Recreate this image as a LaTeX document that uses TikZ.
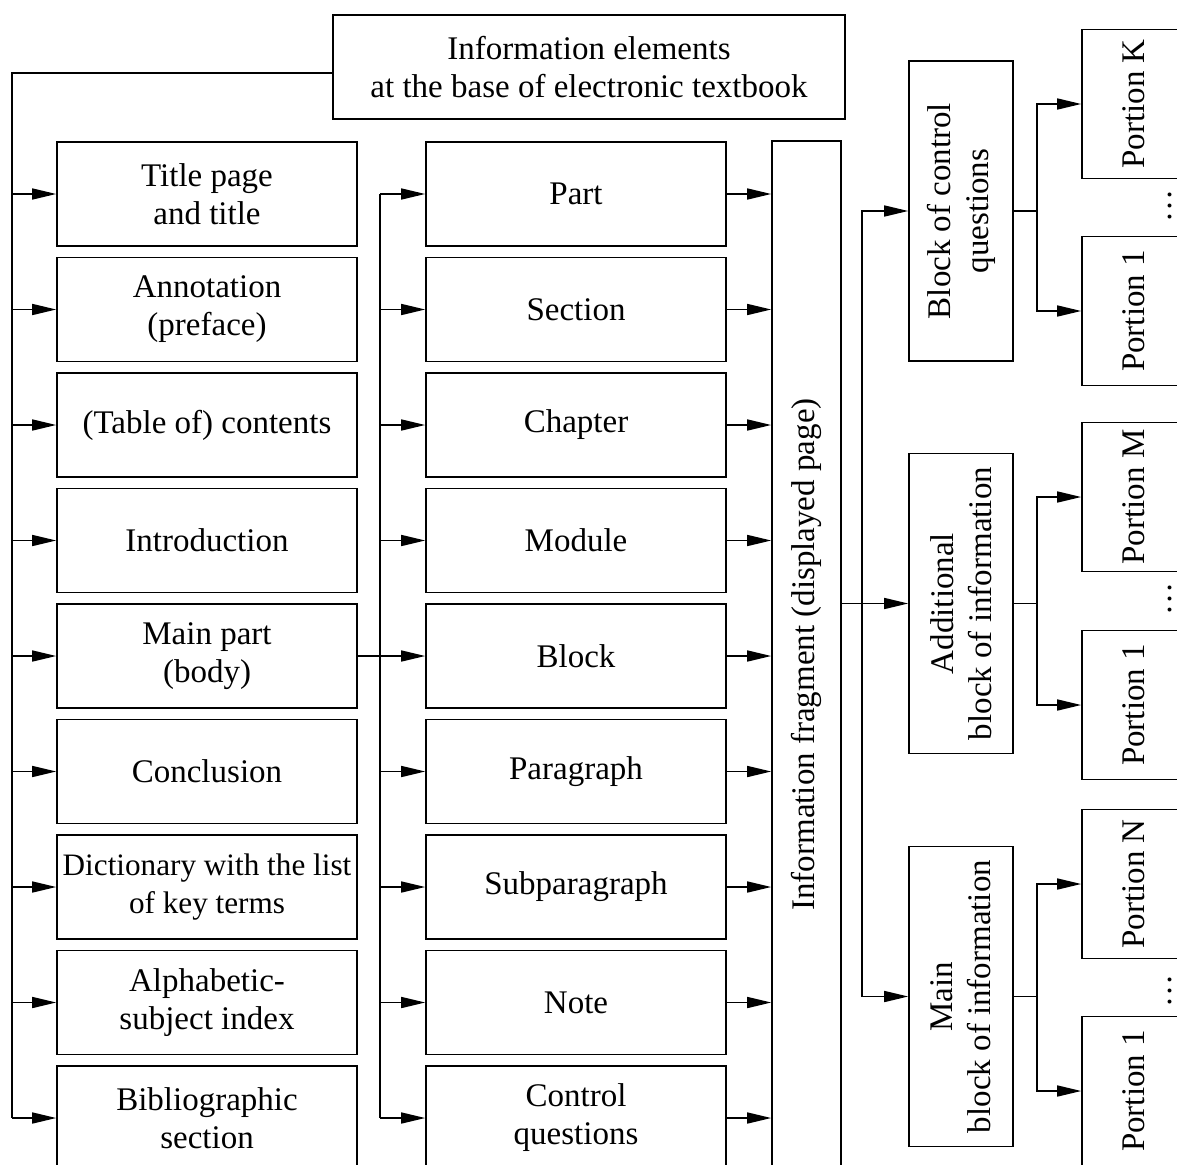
\documentclass[tikz,border=0pt]{standalone}
\usepackage{fontspec}
\setmainfont{Liberation Serif}
\usetikzlibrary{arrows.meta}

\begin{document}
\begin{tikzpicture}[x=1pt, y=-1pt, line width=1.6pt,
    font=\fontsize{33}{38}\selectfont,
    box/.style={draw, align=center, inner sep=0pt, minimum width=300pt, minimum height=104pt},
    vbox/.style={draw, rotate=90, align=center, inner sep=0pt},
    arr/.style={-{Triangle[length=24pt, width=11pt]}}]
        \useasboundingbox (0,0) rectangle (1177,1164);
        \clip (0,0) rectangle (1177,1164);
        % top element and the left column
        \node[box, minimum width=512pt] (top) at (589,67) {Information elements\\at the base of electronic textbook};
        \node[box] (title) at (207,194) {Title page\\and title};
        \node[box] (annot) at (207,309.5) {Annotation\\(preface)};
        \node[box] (toc) at (207,425) {(Table of) contents};
        \node[box] (intro) at (207,540.5) {Introduction};
        \node[box] (mainp) at (207,656) {Main part\\(body)};
        \node[box] (concl) at (207,771.5) {Conclusion};
        \node[box, font=\fontsize{31.2}{38}\selectfont] (dict) at (207,887) {Dictionary with the list\\of key terms};
        \node[box] (alpha) at (207,1002.5) {Alphabetic-\\subject index};
        \node[box] (biblio) at (207,1118) {Bibliographic\\section};
        % middle column
        \node[box] (part) at (576,194) {Part};
        \node[box] (section) at (576,309.5) {Section};
        \node[box] (chapter) at (576,425) {Chapter};
        \node[box] (module) at (576,540.5) {Module};
        \node[box] (block) at (576,656) {Block};
        \node[box] (parag) at (576,771.5) {Paragraph};
        \node[box] (subpar) at (576,887) {Subparagraph};
        \node[box] (note) at (576,1002.5) {Note};
        \node[box] (contq) at (576,1118) {Control\\questions};
        % displayed page and blocks
        \node[vbox, minimum width=1027pt, minimum height=69pt] (frag) at (806.5,654.5) {Information fragment (displayed page)};
        \node[vbox, minimum width=300pt, minimum height=104pt] (cq) at (961,211) {Block of control\\questions};
        \node[vbox, minimum width=300pt, minimum height=104pt] (addb) at (961,603.5) {Additional\\block of information};
        \node[vbox, minimum width=300pt, minimum height=104pt] (mainb) at (961,996.5) {Main\\block of information};
        % portions
        \node[vbox, minimum width=149pt, minimum height=104pt] (pK) at (1134,104) {Portion K};
        \node[vbox, minimum width=149pt, minimum height=104pt] (pa1) at (1134,311) {Portion 1};
        \node[vbox, minimum width=149pt, minimum height=104pt] (pM) at (1134,497) {Portion M};
        \node[vbox, minimum width=149pt, minimum height=104pt] (pb1) at (1134,705) {Portion 1};
        \node[vbox, minimum width=149pt, minimum height=104pt] (pN) at (1134,884) {Portion N};
        \node[vbox, minimum width=149pt, minimum height=104pt] (pc1) at (1134,1091) {Portion 1};
        \node[rotate=90, inner sep=0pt] (dotsa) at (1170,206) {\ldots};
        \node[rotate=90, inner sep=0pt] (dotsb) at (1170,599) {\ldots};
        \node[rotate=90, inner sep=0pt] (dotsc) at (1170,991) {\ldots};
        % connectors
        \coordinate (lbus) at (12,73);
        \coordinate (mbus) at (380,194);
        \coordinate (fork) at (862,996.5);
        \draw ([yshift=-6pt]top.west) -- (lbus) -- (lbus |- biblio.west);
        \foreach \n in {title,annot,toc,intro,mainp,concl,dict,alpha,biblio}
            \draw[arr] (lbus |- \n.west) -- (\n.west);
        \draw (mbus) -- (mbus |- contq.west);
        \foreach \n in {part,section,chapter,module,parag,subpar,note,contq}
            \draw[arr] (mbus |- \n.west) -- (\n.west);
        \draw[arr] (mainp.east) -- (block.west);
        \foreach \n in {part,section,chapter,module,block,parag,subpar,note,contq}
            \draw[arr] (\n.east) -- (frag.north |- \n.east);
        \draw[arr] (frag.south |- addb.north) -- (addb.north);
        \draw[arr] (fork) |- (cq.north);
        \draw[arr] (fork) -- (mainb.north);
        \foreach \b/\u/\l in {cq/pK/pa1, addb/pM/pb1, mainb/pN/pc1} {
            \draw (\b.south) -- ++(23,0) coordinate (\b f);
            \draw[arr] (\b f) |- (\u.north);
            \draw[arr] (\b f) |- (\l.north);
        }
    \end{tikzpicture}
\end{document}
